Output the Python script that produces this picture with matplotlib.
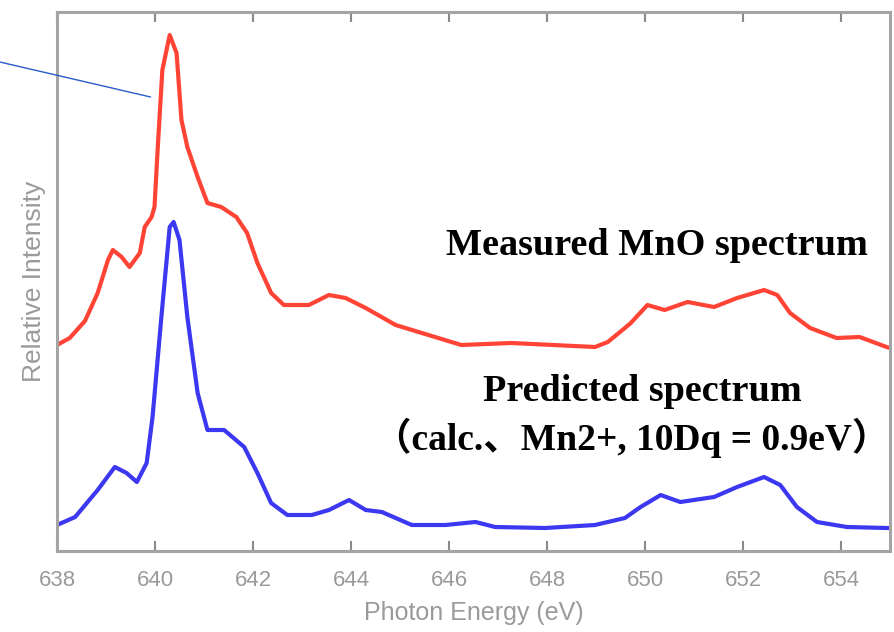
import matplotlib
matplotlib.use("Agg")
import matplotlib.pyplot as plt

# Measured MnO spectrum (red)
measured_energy = [638.00, 638.26, 638.57, 638.83, 639.04, 639.14, 639.32, 639.48, 639.69, 639.79,
                   639.93, 639.99, 640.05, 640.15, 640.30, 640.44, 640.54, 640.66, 640.87, 641.07,
                   641.35, 641.66, 641.88, 642.09, 642.37, 642.63, 643.14, 643.55, 643.89, 644.30,
                   644.91, 645.58, 646.25, 647.27, 648.98, 649.24, 649.59, 649.71, 650.05, 650.40,
                   650.87, 651.41, 651.88, 652.43, 652.70, 652.96, 653.37, 653.91, 654.38, 654.93, 655.0]
measured_intensity = [2.06, 2.13, 2.30, 2.58, 2.91, 3.01, 2.94, 2.84, 2.98, 3.24,
                      3.34, 3.44, 3.98, 4.81, 5.16, 4.98, 4.31, 4.04, 3.74, 3.48,
                      3.44, 3.34, 3.18, 2.88, 2.58, 2.46, 2.46, 2.56, 2.53, 2.43,
                      2.26, 2.16, 2.06, 2.08, 2.04, 2.09, 2.23, 2.28, 2.46, 2.41,
                      2.49, 2.44, 2.53, 2.61, 2.56, 2.38, 2.23, 2.13, 2.14, 2.04, 2.03]

# Predicted spectrum (blue)
predicted_energy = [638.00, 638.37, 638.83, 639.18, 639.42, 639.63, 639.83, 639.95, 640.13, 640.30,
                    640.38, 640.50, 640.66, 640.87, 641.07, 641.41, 641.82, 642.09, 642.37, 642.70,
                    643.20, 643.55, 643.96, 644.30, 644.63, 645.24, 645.93, 646.54, 646.94, 647.96,
                    648.98, 649.59, 649.91, 650.32, 650.72, 651.41, 651.88, 652.43, 652.76, 653.10,
                    653.51, 654.12, 654.93, 655.0]
predicted_intensity = [0.26, 0.34, 0.61, 0.84, 0.78, 0.69, 0.88, 1.34, 2.34, 3.24,
                       3.29, 3.11, 2.34, 1.58, 1.21, 1.21, 1.04, 0.78, 0.48, 0.36,
                       0.36, 0.41, 0.51, 0.41, 0.39, 0.26, 0.26, 0.29, 0.24, 0.23,
                       0.26, 0.33, 0.44, 0.56, 0.49, 0.54, 0.64, 0.74, 0.66, 0.44,
                       0.29, 0.24, 0.23, 0.23]

x_ticks = [638, 640, 642, 644, 646, 648, 650, 652, 654]

W, H = 894, 632
fig = plt.figure(figsize=(W / 100, H / 100), dpi=100)
ax = fig.add_axes([57 / W, 1 - 551 / H, (890 - 57) / W, (551 - 12) / H])

ax.plot(measured_energy, measured_intensity, color="#ff4436", lw=3.0,
        solid_joinstyle="round", solid_capstyle="round")
ax.plot(predicted_energy, predicted_intensity, color="#3c38f2", lw=3.0,
        solid_joinstyle="round", solid_capstyle="round")

ax.set_xlim(638, 655)
ax.set_ylim(0, 5.39)
ax.set_xticks(x_ticks)
ax.set_xticklabels([str(t) for t in x_ticks])
ax.set_yticks([])
ax.tick_params(axis="x", direction="in", top=True, bottom=True, length=7, width=1.5,
               color="#8a8a8a", labelcolor="#9a9a9a", labelsize=16, pad=14)
for sp in ax.spines.values():
    sp.set_color("#a4a4a4")
    sp.set_linewidth(2.2)
for lbl in ax.get_xticklabels():
    lbl.set_family("Liberation Sans")

ax.set_xlabel("Photon Energy (eV)", color="#9a9a9a", fontsize=18, family="Liberation Sans", labelpad=7)
ax.set_ylabel("Relative Intensity", color="#9a9a9a", fontsize=19, family="Liberation Sans", labelpad=8)

# annotation line pointing at the measured peak
ax.annotate("", xy=(639.91, 4.54), xytext=(-0.068, 0.907), textcoords="axes fraction",
            xycoords="data", annotation_clip=False,
            arrowprops=dict(arrowstyle="-", color="#2a5bc8", lw=1.0, shrinkA=0, shrinkB=0))

serif = ["Liberation Serif", "Noto Sans CJK JP"]
fig.text(657 / W, 1 - 255 / H, "Measured MnO spectrum", ha="center", va="baseline",
         fontsize=27.5, fontweight="bold", family=serif, color="black")
fig.text(642 / W, 1 - 401 / H, "Predicted spectrum", ha="center", va="baseline",
         fontsize=27.5, fontweight="bold", family=serif, color="black")
fig.text(632 / W, 1 - 450 / H, "（calc.、Mn2+, 10Dq = 0.9eV）", ha="center", va="baseline",
         fontsize=27, fontweight="bold", family=serif, color="black")

fig.savefig("out.png", dpi=100)
